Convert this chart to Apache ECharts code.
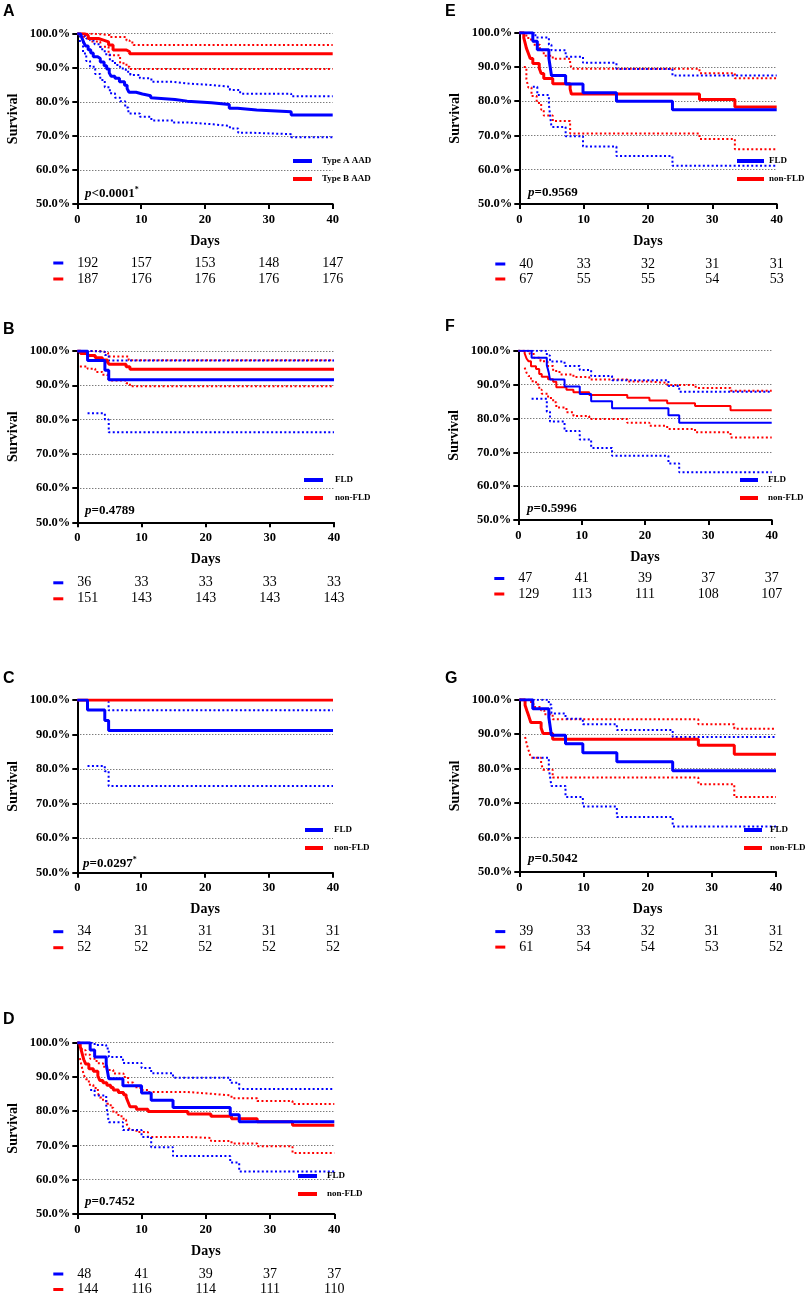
<!DOCTYPE html>
<html><head><meta charset="utf-8">
<script src="https://cdn.jsdelivr.net/npm/echarts@6/dist/echarts.min.js"></script>
<style>html,body{margin:0;padding:0;background:#fff}#c{width:811px;height:1299px}</style>
</head><body><div id="c"></div>
<script>
// ---------------- DATA ----------------
// Panel A : Type A AAD (blue) vs Type B AAD (red)
const A_blue = [[0,100],[0.5,99.5],[0.8,98.4],[1.0,97.4],[1.3,96.4],[1.7,95.3],[2.1,94.3],[2.5,93.2],[3.2,92.7],[3.6,91.7],[4.2,90.6],[4.6,89.6],[5.0,88.5],[5.3,87.5],[5.9,86.9],[6.6,85.9],[7.4,84.9],[7.8,83.9],[8.1,82.8],[9.2,82.3],[10.2,81.8],[11.5,81.2],[11.7,80.7],[15.3,80.2],[17.2,79.7],[21.0,79.2],[23.8,78.1],[25.1,77.6],[28.1,77.1],[33.5,76.1],[40,76.1]];
const A_blue_hi = [[0,100],[0.8,99.4],[1.4,98.6],[2.0,98.0],[2.7,96.9],[3.6,95.4],[4.3,94.0],[5.1,92.0],[5.9,90.8],[6.7,89.8],[7.6,88.8],[8.3,87.9],[9.8,86.9],[11.6,85.9],[15.0,85.4],[17.1,84.9],[21.3,84.4],[23.9,83.5],[25.5,82.4],[33.5,81.6],[40,81.6]];
const A_blue_lo = [[0,100],[0.4,97.5],[0.9,94.2],[1.4,92.0],[2.0,90.3],[2.8,88.2],[3.6,86.4],[4.3,84.3],[5.1,82.5],[5.9,81.2],[6.7,80.2],[7.5,78.3],[8.0,76.6],[9.8,75.6],[11.6,74.5],[15.0,73.9],[17.6,73.4],[21.3,72.9],[23.9,72.2],[25.2,70.9],[27.6,70.5],[33.5,69.6],[40,69.6]];
const A_red = [[0,100],[1.2,99.5],[1.7,98.6],[3.3,98.1],[4.1,97.6],[4.9,96.7],[5.6,95.2],[7.7,94.7],[8.2,94.1],[40,94.1]];
const A_red_hi = [[0,100],[2.5,99.6],[5.1,99.0],[7.7,98.0],[8.2,97.4],[8.8,96.7],[40,96.7]];
const A_red_lo = [[0,100],[0.9,99.1],[2.2,97.7],[3.6,96.2],[4.9,93.7],[6.7,91.3],[7.7,90.3],[8.2,89.6],[40,89.6]];
// Panel B
const B_blue = [[0,100],[1.6,97.2],[4.3,94.4],[4.9,91.6],[40,91.6]];
const B_blue_hi = [[0,100],[2.0,99.8],[4.3,98.8],[4.9,97.2],[40,97.2]];
const B_blue_lo = [[1.6,81.8],[4.3,80.0],[4.9,76.3],[40,76.3]];
const B_red = [[0,100],[0.5,99.3],[1.6,98.7],[2.8,98.0],[3.9,97.4],[4.7,96.7],[5.0,96.1],[7.6,95.4],[8.2,94.7],[40,94.7]];
const B_red_hi = [[0,100],[3.5,99.5],[4.8,98.4],[8.0,97.3],[40,97.3]];
const B_red_lo = [[0.4,95.5],[1.6,94.8],[2.8,93.9],[3.9,93.1],[4.7,92.2],[5.0,91.4],[7.6,90.6],[8.2,89.7],[40,89.7]];
// Panel C
const C_blue = [[0,100],[1.6,97.1],[4.3,94.1],[4.9,91.2],[40,91.2]];
const C_blue_hi = [[0,100],[4.3,99.5],[4.9,97.0],[40,97.0]];
const C_blue_lo = [[1.6,80.9],[4.3,79.4],[4.9,75.1],[40,75.1]];
const C_red = [[0,100],[40,100]];
// Panel D
const D_blue = [[0,100],[2.0,97.9],[2.7,95.8],[4.5,93.7],[4.7,91.6],[4.9,89.5],[7.1,87.4],[10.0,85.3],[11.5,83.2],[14.9,81.1],[23.8,79.0],[25.2,76.9],[40,76.9]];
const D_blue_hi = [[0,100],[2.7,99.3],[4.5,98.3],[4.9,95.8],[7.1,94.1],[10.0,92.6],[11.5,91.1],[14.9,89.8],[23.8,88.3],[25.2,86.5],[40,86.5]];
const D_blue_lo = [[2.0,86.2],[2.7,84.6],[4.5,81.8],[4.7,79.5],[4.9,76.8],[7.1,74.5],[10.0,72.5],[11.5,69.5],[14.9,66.9],[23.8,65.0],[25.2,62.4],[40,62.4]];
const D_red = [[0,100],[0.4,99.3],[0.6,97.9],[0.8,96.5],[1.0,95.1],[1.3,93.8],[1.8,92.4],[2.5,91.7],[3.2,90.3],[3.5,89.0],[4.0,88.3],[4.6,87.6],[5.2,86.9],[5.6,86.2],[6.4,85.5],[7.2,84.8],[7.6,84.1],[7.9,82.7],[8.2,81.3],[9.2,80.6],[11.0,79.9],[17.2,79.2],[20.8,78.5],[24.0,77.8],[28.0,76.9],[33.5,75.9],[40,75.9]];
const D_red_hi = [[0,100],[0.5,99.0],[0.8,97.8],[1.3,96.5],[2.0,95.3],[3.0,94.0],[4.0,93.0],[4.6,92.0],[5.6,91.0],[7.2,90.0],[7.9,88.4],[8.7,87.0],[9.8,86.2],[11.0,85.6],[17.2,85.1],[20.8,84.6],[24.0,83.8],[28.0,83.0],[33.5,82.1],[40,82.1]];
const D_red_lo = [[0.4,95.5],[0.6,93.8],[0.8,92.2],[1.0,90.7],[1.3,89.3],[1.8,87.7],[2.5,86.8],[3.2,85.3],[3.5,84.0],[4.0,83.0],[4.6,82.2],[5.2,81.0],[5.6,79.6],[6.4,78.5],[7.2,77.5],[7.6,76.5],[7.9,75.5],[8.2,74.5],[9.2,73.9],[11.0,72.5],[17.2,72.2],[20.8,71.3],[24.0,70.6],[28.0,69.8],[33.5,67.8],[40,67.8]];
// Panel E
const E_blue = [[0,100],[2.1,97.5],[2.8,95.0],[4.6,92.5],[4.8,90.0],[5.0,87.5],[7.2,85.0],[9.9,82.5],[15.1,80.0],[23.8,77.5],[40,77.5]];
const E_blue_hi = [[0,100],[2.5,98.6],[4.6,96.5],[5.0,94.9],[7.2,93.0],[9.9,91.2],[15.1,89.4],[23.8,87.5],[40,87.5]];
const E_blue_lo = [[2.1,84.2],[2.8,81.8],[4.6,79.0],[4.8,75.6],[5.0,72.5],[7.2,69.8],[9.9,66.8],[15.1,64.0],[23.8,61.2],[40,61.2]];
const E_red = [[0,100],[0.7,98.5],[0.9,97.0],[1.1,95.5],[1.4,94.0],[1.7,92.5],[2.1,91.0],[3.1,89.6],[3.4,88.1],[3.8,86.6],[5.2,85.1],[7.9,83.6],[8.1,82.1],[28.0,80.5],[33.5,78.3],[40,78.3]];
const E_red_hi = [[0,100],[0.8,99.2],[1.4,98.0],[2.2,96.5],[3.2,94.9],[3.8,93.3],[5.2,92.4],[7.9,91.0],[8.1,89.5],[28.0,88.2],[33.5,86.7],[40,86.7]];
const E_red_lo = [[0.7,90.0],[1.1,86.5],[1.4,84.0],[1.9,81.5],[2.7,79.5],[3.4,77.5],[3.8,75.8],[5.2,74.2],[7.9,70.6],[28.0,69.0],[33.5,66.0],[40,66.0]];
// Panel F
const F_blue = [[0,100],[2.1,97.9],[4.5,95.7],[4.8,93.6],[5.0,91.5],[7.3,89.4],[9.7,87.2],[11.5,85.1],[14.8,83.0],[23.7,80.9],[25.4,78.7],[40,78.7]];
const F_blue_hi = [[0,100],[4.5,98.6],[5.0,96.8],[7.3,95.5],[9.7,94.3],[11.5,92.5],[14.8,91.3],[23.7,89.6],[25.4,87.9],[40,87.9]];
const F_blue_lo = [[2.1,85.8],[4.5,82.0],[5.0,79.1],[7.3,76.3],[9.7,73.8],[11.5,71.3],[14.8,69.0],[23.7,66.7],[25.4,64.1],[40,64.1]];
const F_red = [[0,100],[1.0,99.2],[1.3,97.7],[1.6,96.9],[2.0,95.4],[2.8,94.6],[3.3,93.1],[3.7,92.3],[4.7,91.6],[5.5,90.8],[6.0,89.2],[7.6,88.5],[8.7,87.7],[11.2,86.9],[17.2,86.1],[20.7,85.3],[23.5,84.5],[27.9,83.7],[33.5,82.4],[40,82.4]];
const F_red_hi = [[0,100],[1.8,99.0],[2.5,97.9],[3.5,96.9],[4.6,95.5],[5.5,94.0],[6.5,93.0],[8.7,92.2],[11.2,91.5],[17.2,90.9],[20.7,90.5],[23.5,89.9],[28.0,89.0],[33.5,88.2],[40,88.2]];
const F_red_lo = [[1.0,95.0],[1.3,93.5],[1.6,92.5],[2.0,91.0],[2.8,90.0],[3.3,88.5],[3.7,87.3],[4.7,86.0],[5.5,84.8],[6.0,83.2],[7.6,81.8],[8.7,80.7],[11.2,79.8],[17.2,78.7],[20.7,77.8],[23.5,76.9],[27.9,75.9],[33.5,74.4],[40,74.4]];
// Panel G
const G_blue = [[0,100],[2.1,97.4],[4.6,94.9],[4.8,92.3],[5.0,89.7],[7.2,87.2],[9.9,84.6],[15.2,82.0],[23.9,79.4],[40,79.4]];
const G_blue_hi = [[0,100],[4.6,98.6],[5.0,96.0],[7.2,94.5],[9.9,92.9],[15.2,91.2],[23.9,89.2],[40,89.2]];
const G_blue_lo = [[2.1,83.2],[4.6,80.0],[4.8,77.5],[5.0,75.0],[7.2,71.8],[9.9,69.0],[15.2,66.0],[23.9,63.2],[40,63.2]];
const G_red = [[0,100],[0.9,98.4],[1.2,96.7],[1.5,95.1],[1.8,93.4],[3.4,91.8],[3.7,90.2],[5.2,88.5],[27.9,86.8],[33.5,84.2],[40,84.2]];
const G_red_hi = [[0,100],[1.5,99.3],[2.2,97.9],[3.4,96.9],[3.9,95.8],[5.2,94.3],[27.9,92.9],[33.5,91.6],[40,91.6]];
const G_red_lo = [[0.9,89.2],[1.2,86.8],[1.5,85.0],[1.8,83.2],[3.4,81.5],[3.7,79.7],[5.2,77.4],[27.9,75.5],[33.5,71.8],[40,71.8]];

// Numbers at risk (days 0,10,20,30,40)
const riskDays = [0,10,20,30,40];
const A_risk_blue = [192,157,153,148,147], A_risk_red = [187,176,176,176,176];
const B_risk_blue = [36,33,33,33,33],     B_risk_red = [151,143,143,143,143];
const C_risk_blue = [34,31,31,31,31],     C_risk_red = [52,52,52,52,52];
const D_risk_blue = [48,41,39,37,37],     D_risk_red = [144,116,114,111,110];
const E_risk_blue = [40,33,32,31,31],     E_risk_red = [67,55,55,54,53];
const F_risk_blue = [47,41,39,37,37],     F_risk_red = [129,113,111,108,107];
const G_risk_blue = [39,33,32,31,31],     G_risk_red = [61,54,54,53,52];

const groupNamesA = ['Type A AAD','Type B AAD'];
const groupNamesFLD = ['FLD','non-FLD'];
const pTexts = {A:'<0.0001', B:'=0.4789', C:'=0.0297', D:'=0.7452', E:'=0.9569', F:'=0.5996', G:'=0.5042'};
const pStars = {A:true, C:true};

// ---------------- LAYOUT / STYLE ----------------
const SERIF = 'Liberation Serif';
const BLUE = '#0000ff', RED = '#ff0000';
const panels = [
  {key:'A', grid:[77.3,33.7,255.4,170.3], letter:[3,4], legend:[293,155,19,5], p:[85,186], risk:[59,75], w:3,
   names:groupNamesA, blue:[A_blue,A_blue_hi,A_blue_lo], red:[A_red,A_red_hi,A_red_lo], rb:A_risk_blue, rr:A_risk_red},
  {key:'E', grid:[519.3,32.7,257.4,171.3], letter:[445,4], legend:[737,155,27,0], p:[528,185], risk:[60,75], w:3,
   names:groupNamesFLD, blue:[E_blue,E_blue_hi,E_blue_lo], red:[E_red,E_red_hi,E_red_lo], rb:E_risk_blue, rr:E_risk_red},
  {key:'B', grid:[77.3,351,256.7,171.3], letter:[3,322], legend:[304,474,19,7], p:[85,503], risk:[60.5,76.5], w:3,
   names:groupNamesFLD, blue:[B_blue,B_blue_hi,B_blue_lo], red:[B_red,B_red_hi,B_red_lo], rb:B_risk_blue, rr:B_risk_red},
  {key:'F', grid:[518.3,350.7,253.4,169.3], letter:[445,319], legend:[740,474,18,5], p:[527,501], risk:[58.5,74], w:2,
   names:groupNamesFLD, blue:[F_blue,F_blue_hi,F_blue_lo], red:[F_red,F_red_hi,F_red_lo], rb:F_risk_blue, rr:F_risk_red},
  {key:'C', grid:[77.3,700,255.7,172.7], letter:[3,671], legend:[305,824,18,6], p:[83,856], risk:[59,75], w:3,
   names:groupNamesFLD, blue:[C_blue,C_blue_hi,C_blue_lo], red:[C_red,null,null], rb:C_risk_blue, rr:C_risk_red},
  {key:'G', grid:[519.3,699.7,256.7,172.4], letter:[445,671], legend:[744,824,18,3], p:[528,851], risk:[59.5,75], w:3,
   names:groupNamesFLD, blue:[G_blue,G_blue_hi,G_blue_lo], red:[G_red,G_red_hi,G_red_lo], rb:G_risk_blue, rr:G_risk_red},
  {key:'D', grid:[77.3,1042.7,257,171.3], letter:[3,1012], legend:[298,1170,19,5], p:[85,1194], risk:[60,75.5], w:3,
   names:groupNamesFLD, blue:[D_blue,D_blue_hi,D_blue_lo], red:[D_red,D_red_hi,D_red_lo], rb:D_risk_blue, rr:D_risk_red}
];

const option = {animation:false, backgroundColor:'#fff', grid:[], xAxis:[], yAxis:[], series:[], legend:[], title:[]};

function lineSeries(name, data, color, dotted, width, xi, yi, z){
  return {type:'line', name, data, step:'end', symbol:'none', showSymbol:false, xAxisIndex:xi, yAxisIndex:yi,
    lineStyle:{color, width, type: dotted ? [2,2.4] : 'solid', cap:'butt'}, itemStyle:{color}, z, silent:true, clip:true};
}

panels.forEach((P, i) => {
  const g = P.grid;
  option.grid.push({left:g[0], top:g[1], width:g[2], height:g[3]});
  const xi = option.xAxis.length;
  const base = {gridIndex:i, type:'value', min:0, max:40, interval:10};
  option.xAxis.push(Object.assign({}, base, {
    name:'Days', nameLocation:'middle', nameGap:30,
    nameTextStyle:{fontFamily:SERIF, fontWeight:'bold', fontSize:14, color:'#000'},
    axisLine:{show:true, onZero:false, lineStyle:{color:'#000', width:2}},
    axisTick:{show:true, length:5, lineStyle:{color:'#000', width:2}},
    axisLabel:{margin:9, fontFamily:SERIF, fontWeight:'bold', fontSize:12.5, color:'#000'},
    splitLine:{show:false}
  }));
  [[P.rb, BLUE],[P.rr, RED]].forEach(([arr, col], r) => {
    option.xAxis.push(Object.assign({}, base, {
      position:'bottom', offset:P.risk[r],
      axisLine:{show:false}, axisTick:{show:false}, splitLine:{show:false},
      axisLabel:{margin:0, verticalAlign:'middle', alignMinLabel:'left', fontFamily:SERIF, fontSize:14, color:'#000',
        formatter: v => String(arr[riskDays.indexOf(Math.round(v))])},
      name:'{d| }', nameLocation:'start', nameGap:14,
      nameTextStyle:{rich:{d:{width:10, height:3, lineHeight:3, backgroundColor:col}}}
    }));
  });
  const yi = option.yAxis.length;
  option.yAxis.push({gridIndex:i, type:'value', min:50, max:100, interval:10,
    name:'Survival', nameLocation:'middle', nameGap:57, nameRotate:90,
    nameTextStyle:{fontFamily:SERIF, fontWeight:'bold', fontSize:14, color:'#000'},
    axisLine:{show:true, onZero:false, lineStyle:{color:'#000', width:2}},
    axisTick:{show:true, length:5, lineStyle:{color:'#000', width:2}},
    axisLabel:{margin:7, fontFamily:SERIF, fontWeight:'bold', fontSize:12.5, color:'#000', formatter: v => v.toFixed(1) + '%'},
    splitLine:{show:true, lineStyle:{color:'#444', width:1, type:[1,2]}}
  });
  const [nb, nr] = P.names;
  // CI lines (dotted)
  if (P.red[1]) option.series.push(lineSeries(nr + ' upper ' + P.key, P.red[1], RED, true, 2, xi, yi, 2));
  if (P.red[2]) option.series.push(lineSeries(nr + ' lower ' + P.key, P.red[2], RED, true, 2, xi, yi, 2));
  option.series.push(lineSeries(nb + ' upper ' + P.key, P.blue[1], BLUE, true, 2, xi, yi, 2));
  option.series.push(lineSeries(nb + ' lower ' + P.key, P.blue[2], BLUE, true, 2, xi, yi, 2));
  // survival curves
  option.series.push(lineSeries(nr, P.red[0], RED, false, P.w, xi, yi, 3));
  option.series.push(lineSeries(nb, P.blue[0], BLUE, false, P.w, xi, yi, 4));

  const L = P.legend;
  option.legend.push({left:L[0], top:L[1], orient:'vertical', itemWidth:L[2], itemHeight:4, itemGap:6, icon:'rect',
    selectedMode:false, padding:0,
    data:[{name:nb, itemStyle:{color:BLUE}}, {name:nr, itemStyle:{color:RED}}],
    textStyle:{fontFamily:SERIF, fontWeight:'bold', fontSize:9, color:'#000', lineHeight:12, padding:[0,0,0,L[3]]}});

  option.title.push({text:P.key, left:P.letter[0], top:P.letter[1], padding:0,
    textStyle:{fontFamily:'Liberation Sans', fontWeight:'bold', fontSize:16, color:'#000'}});
  option.title.push({text:'{i|p}{n|' + pTexts[P.key] + '}' + (pStars[P.key] ? '{s|*}' : ''), left:P.p[0], top:P.p[1], padding:0,
    textStyle:{rich:{
      i:{fontFamily:SERIF, fontStyle:'italic', fontSize:13, color:'#000', lineHeight:15},
      n:{fontFamily:SERIF, fontSize:13, color:'#000', lineHeight:15},
      s:{fontFamily:SERIF, fontSize:8, color:'#000', verticalAlign:'top', lineHeight:15}}}});
});

const chart = echarts.init(document.getElementById('c'), null, {renderer:'canvas'});
chart.setOption(option);
</script>
</body></html>
